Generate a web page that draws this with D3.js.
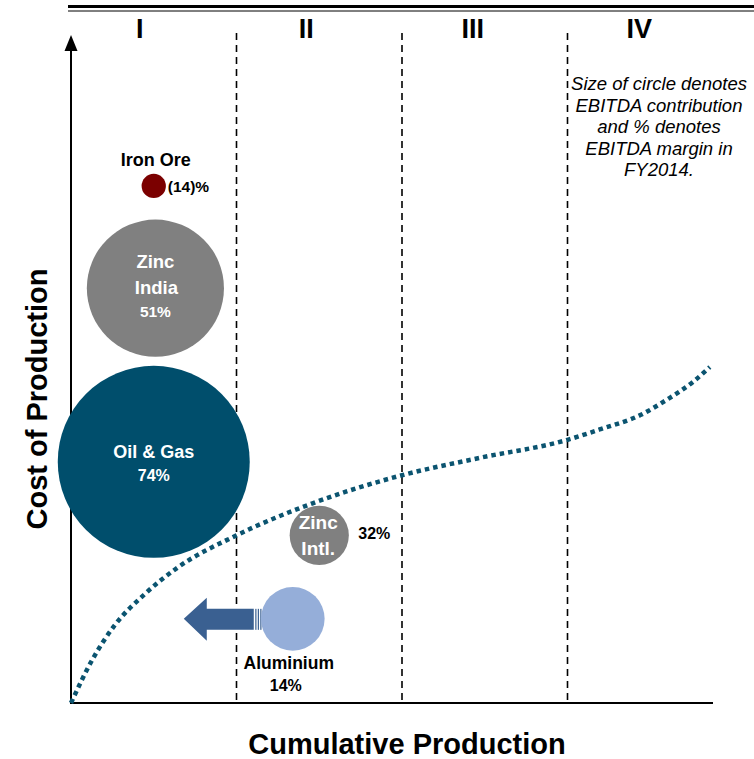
<!DOCTYPE html>
<html lang="en">
<head>
<meta charset="UTF-8"/>
<title>Cost curve</title>
<script src="https://d3js.org/d3.v7.min.js"></script>
<style>
  body { margin:0; background:#fff; }
  text { font-family: Arial, "Liberation Sans", sans-serif; }
</style>
</head>
<body>
<script>
var w = 754;
var h = 759;

// quartile labels
var quartiles = ["I", "II", "III", "IV"];

// cost curve, x in quartile units, y in cost index (0-100)
var curveX = [0, 0.127, 0.266, 0.441, 0.64, 1.0, 1.46, 2.0, 2.47, 3.0, 3.2, 3.44, 3.60, 3.76, 3.86];
var curveY = [0, 6.4, 11.7, 16.2, 20.2, 25.1, 29.9, 34.1, 36.7, 39.4, 41.0, 43.1, 45.4, 48.1, 50.3];

// businesses
var names    = ["Iron Ore", "Zinc India", "Oil & Gas", "Zinc Intl.", "Aluminium"];
var posX     = [0.50, 0.51, 0.50, 1.50, 1.34];
var posY     = [77.4, 62.1, 36.1, 25.1, 12.6];
var ebitda   = [1.6, 51, 100, 9.5, 11];     // contribution (circle size)
var margins  = ["(14)%", "51%", "74%", "32%", "14%"];
var colors   = ["#7b0000", "#808080", "#004e6c", "#808080", "#95aed9"];

var noteLines = ["Size of circle denotes", "EBITDA contribution", "and % denotes", "EBITDA margin in", "FY2014."];

var xScale = d3.scaleLinear().domain([0, 4]).range([71, 733]);
var yScale = d3.scaleLinear().domain([0, 100]).range([703, 35]);
var rScale = d3.scaleSqrt().domain([0, d3.max(ebitda)]).range([0, 96]);

var svg = d3.select("body").append("svg")
  .attr("width", w).attr("height", h);

//------- top rules -------
svg.append("line").attr("x1", 68).attr("x2", w).attr("y1", 6.5).attr("y2", 6.5)
  .attr("stroke", "#000").attr("stroke-width", 3);
svg.append("line").attr("x1", 68).attr("x2", w).attr("y1", 11).attr("y2", 11)
  .attr("stroke", "#000").attr("stroke-width", 1);

//------- quartile dividers -------
svg.selectAll(".div")
  .data([1, 2, 3])
  .enter().append("line")
  .attr("x1", function(d){ return xScale(d); })
  .attr("x2", function(d){ return xScale(d); })
  .attr("y1", 33).attr("y2", yScale(0))
  .attr("stroke", "#000").attr("stroke-width", 1.6)
  .attr("stroke-dasharray", "7,5");

svg.selectAll(".quart")
  .data(quartiles)
  .enter().append("text")
  .attr("x", function(d, i){ return xScale(i + 0.5) - 14 + i; })
  .attr("y", 38)
  .attr("text-anchor", "middle")
  .attr("font-size", 27).attr("font-weight", "bold")
  .text(function(d){ return d; });

//------- axes -------
svg.append("line").attr("x1", xScale(0)).attr("x2", 713)
  .attr("y1", yScale(0)).attr("y2", yScale(0))
  .attr("stroke", "#000").attr("stroke-width", 2);
svg.append("line").attr("x1", xScale(0)).attr("x2", xScale(0))
  .attr("y1", yScale(0) + 1).attr("y2", 48)
  .attr("stroke", "#000").attr("stroke-width", 2);
svg.append("path")
  .attr("d", "M" + (xScale(0) - 6.5) + ",51 L" + xScale(0) + ",35 L" + (xScale(0) + 6.5) + ",51 Z")
  .attr("fill", "#000");

svg.append("text")
  .attr("x", 407).attr("y", 754)
  .attr("text-anchor", "middle")
  .attr("font-size", 29).attr("font-weight", "bold")
  .text("Cumulative Production");

svg.append("text")
  .attr("transform", "translate(47,399) rotate(-90)")
  .attr("text-anchor", "middle")
  .attr("font-size", 29).attr("font-weight", "bold")
  .text("Cost of Production");

//------- note -------
svg.selectAll(".note")
  .data(noteLines)
  .enter().append("text")
  .attr("x", 659)
  .attr("y", function(d, i){ return 90 + i * 21.5; })
  .attr("text-anchor", "middle")
  .attr("font-size", 18.5).attr("font-style", "italic")
  .text(function(d){ return d; });

//------- cost curve -------
var pts = curveX.map(function(d, i){ return [d, curveY[i]]; });
var line = d3.line()
  .x(function(d){ return xScale(d[0]); })
  .y(function(d){ return yScale(d[1]); })
  .curve(d3.curveMonotoneX);
svg.append("path")
  .datum(pts)
  .attr("d", line)
  .attr("fill", "none")
  .attr("stroke", "#0b5470")
  .attr("stroke-width", 4.5)
  .attr("stroke-dasharray", "4.5,4");

//------- aluminium arrow -------
var ax = xScale(posX[4]), ay = yScale(posY[4]);
var arrow = svg.append("g").attr("fill", "#3a6091");
arrow.append("path")
  .attr("d", "M" + (ax - 109) + "," + ay +
    " L" + (ax - 86) + "," + (ay - 21) +
    " L" + (ax - 86) + "," + (ay - 10) +
    " L" + (ax - 39) + "," + (ay - 10) +
    " L" + (ax - 39) + "," + (ay + 11) +
    " L" + (ax - 86) + "," + (ay + 11) +
    " L" + (ax - 86) + "," + (ay + 22) + " Z");
[-37.5, -35, -32.5].forEach(function(o){
  arrow.append("rect").attr("x", ax + o).attr("y", ay - 10)
    .attr("width", 1.2).attr("height", 21);
});

//------- bubbles -------
svg.selectAll(".bubble")
  .data(names)
  .enter().append("circle")
  .attr("cx", function(d, i){ return xScale(posX[i]); })
  .attr("cy", function(d, i){ return yScale(posY[i]); })
  .attr("r", function(d, i){ return rScale(ebitda[i]); })
  .attr("fill", function(d, i){ return colors[i]; });

function label(x, y, str, size, col) {
  svg.append("text").attr("x", x).attr("y", y)
    .attr("text-anchor", "middle")
    .attr("font-size", size).attr("font-weight", "bold")
    .attr("fill", col)
    .text(str);
}

// Iron Ore
var cx0 = xScale(posX[0]), cy0 = yScale(posY[0]);
label(cx0 + 2, cy0 - 20, "Iron Ore", 18, "#000");
svg.append("text").attr("x", cx0 + 14).attr("y", cy0 + 6)
  .attr("font-size", 15.5).attr("font-weight", "bold")
  .text(margins[0]);

// Zinc India
var cx1 = xScale(posX[1]), cy1 = yScale(posY[1]);
label(cx1, cy1 - 20, "Zinc", 18.5, "#fff");
label(cx1 + 1, cy1 + 6, "India", 18.5, "#fff");
label(cx1, cy1 + 29, margins[1], 15.5, "#fff");

// Oil & Gas
var cx2 = xScale(posX[2]), cy2 = yScale(posY[2]);
label(cx2, cy2 - 4, "Oil & Gas", 18, "#fff");
label(cx2, cy2 + 19, margins[2], 16, "#fff");

// Zinc Intl.
var cx3 = xScale(posX[3]), cy3 = yScale(posY[3]);
label(cx3 - 1, cy3 - 6, "Zinc", 19, "#fff");
label(cx3 - 1, cy3 + 20, "Intl.", 19, "#fff");
label(cx3 + 55, cy3 + 4, margins[3], 16, "#000");

// Aluminium
var cx4 = xScale(posX[4]), cy4 = yScale(posY[4]);
label(cx4 - 4, cy4 + 50, "Aluminium", 17.5, "#000");
label(cx4 - 7, cy4 + 72, margins[4], 16, "#000");
</script>
</body>
</html>
